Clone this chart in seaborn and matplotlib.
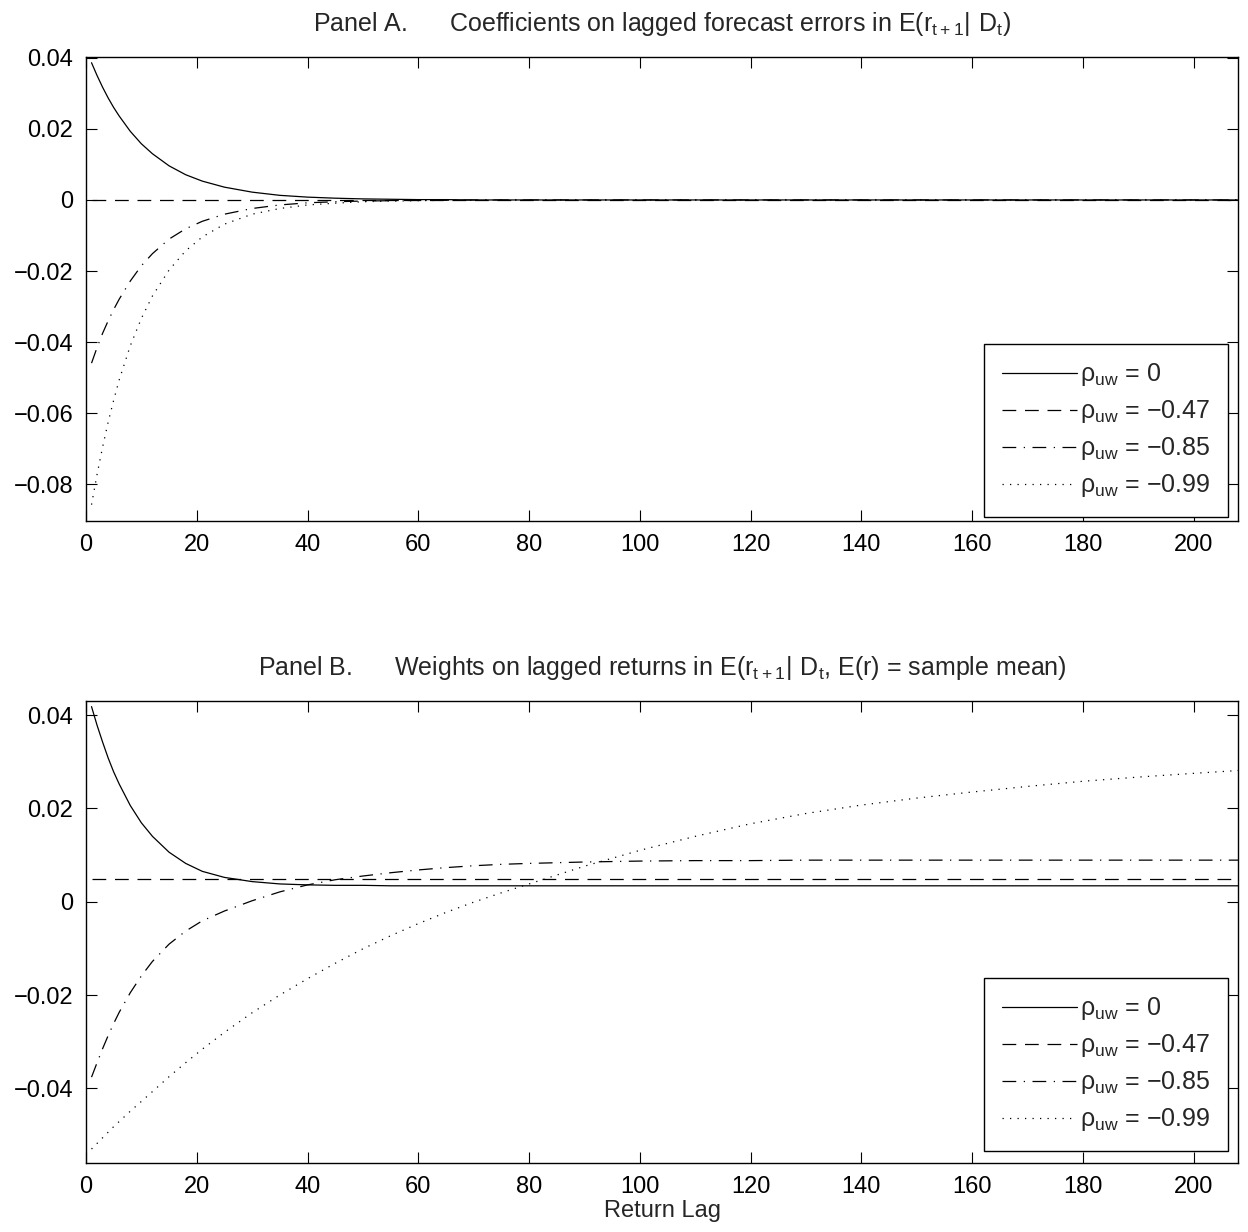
import matplotlib
matplotlib.use('Agg')
import matplotlib.pyplot as plt
import pandas as pd
import seaborn as sns

lags = [1, 2, 3, 4, 5, 6, 8, 10, 12, 15, 18, 21, 25, 30, 35, 40, 45, 50, 55, 60,
        65, 70, 75, 80, 90, 100, 110, 120, 130, 140, 150, 160, 170, 180, 190, 200, 208]

# Panel A: coefficients on lagged forecast errors
solid_a = [0.0386, 0.0350, 0.0317, 0.0287, 0.0260, 0.0236, 0.0193, 0.0158, 0.0130, 0.0096,
           0.0071, 0.0053, 0.0036, 0.0022, 0.0013, 0.0008, 0.0005, 0.0003, 0.0002, 0.0001,
           0.0001, 0, 0, 0, 0, 0, 0, 0, 0, 0, 0, 0, 0, 0, 0, 0, 0]
dashed_a = [0] * len(lags)
dashdot_a = [-0.0459, -0.0415, -0.0375, -0.0340, -0.0308, -0.0279, -0.0228, -0.0185, -0.0151, -0.0110,
             -0.0081, -0.0060, -0.0040, -0.0024, -0.0014, -0.0008, -0.0005, -0.0003, -0.0002, -0.0001,
             -0.0001, 0, 0, 0, 0, 0, 0, 0, 0, 0, 0, 0, 0, 0, 0, 0, 0]
dotted_a = [-0.0857, -0.0772, -0.0695, -0.0625, -0.0563, -0.0506, -0.0410, -0.0333, -0.0270, -0.0197,
            -0.0143, -0.0104, -0.0068, -0.0040, -0.0024, -0.0014, -0.0009, -0.0005, -0.0003, -0.0002,
            -0.0001, -0.0001, 0, 0, 0, 0, 0, 0, 0, 0, 0, 0, 0, 0, 0, 0, 0]

# Panel B: weights on lagged returns
solid_b = [0.0418, 0.0378, 0.0342, 0.0308, 0.0278, 0.0252, 0.0206, 0.0169, 0.0140, 0.0106,
           0.0082, 0.0065, 0.0052, 0.0043, 0.0038, 0.0036, 0.0035, 0.0035, 0.0034, 0.0034,
           0.0034, 0.0034, 0.0034, 0.0034, 0.0034, 0.0034, 0.0034, 0.0034, 0.0034, 0.0034,
           0.0034, 0.0034, 0.0034, 0.0034, 0.0034, 0.0034, 0.0034]
dashed_b = [0.0048] * len(lags)
dashdot_b = [-0.0376, -0.0345, -0.0315, -0.0287, -0.0261, -0.0237, -0.0195, -0.0159, -0.0128, -0.0091,
             -0.0063, -0.0041, -0.0020, 0.0002, 0.0021, 0.0036, 0.0047, 0.0055, 0.0062, 0.0068,
             0.0073, 0.0077, 0.0080, 0.0082, 0.0085, 0.0087, 0.0088, 0.0088, 0.0089, 0.0089,
             0.0089, 0.0089, 0.0089, 0.0089, 0.0089, 0.0089, 0.0089]
dotted_b = [-0.0530, -0.0518, -0.0506, -0.0494, -0.0482, -0.0471, -0.0449, -0.0428, -0.0407, -0.0375,
            -0.0345, -0.0316, -0.0280, -0.0238, -0.0200, -0.0165, -0.0132, -0.0101, -0.0073, -0.0047,
            -0.0023, -0.0001, 0.0019, 0.0038, 0.0076, 0.0110, 0.0140, 0.0167, 0.0189, 0.0207,
            0.0222, 0.0235, 0.0247, 0.0258, 0.0267, 0.0275, 0.0281]

legend_labels = ['$ρ_{uw}$ = 0', '$ρ_{uw}$ = \u22120.47', '$ρ_{uw}$ = \u22120.85', '$ρ_{uw}$ = \u22120.99']
xticks = [0, 20, 40, 60, 80, 100, 120, 140, 160, 180, 200]
yticks_a = [-0.08, -0.06, -0.04, -0.02, 0, 0.02, 0.04]
ytick_labels_a = ['\u22120.08', '\u22120.06', '\u22120.04', '\u22120.02', '0', '0.02', '0.04']
yticks_b = [-0.04, -0.02, 0, 0.02, 0.04]
ytick_labels_b = ['\u22120.04', '\u22120.02', '0', '0.02', '0.04']

title_a = 'Panel A.      Coefficients on lagged forecast errors in $E(r_{t+1}|\\ D_t)$'
title_b = 'Panel B.      Weights on lagged returns in $E(r_{t+1}|\\ D_t$, E(r) = sample mean)'

sns.set_style('ticks')
plt.rcParams['font.family'] = ['Liberation Sans', 'DejaVu Sans']
plt.rcParams['mathtext.default'] = 'regular'
plt.rcParams['axes.linewidth'] = 1.0
plt.rcParams['axes.edgecolor'] = 'black'

styles = ['-', (0, (11, 7)), (0, (11, 6, 1, 6)), (0, (1, 5))]


def draw_panel(ax, series, ylim, yticks, yticklabels, title, legend_y):
    for vals, ls, lab in zip(series, styles, legend_labels):
        sns.lineplot(x=lags, y=vals, ax=ax, color='black', linestyle=ls, linewidth=0.9, label=lab)
    ax.set_xlim(0, 208)
    ax.set_ylim(*ylim)
    ax.set_xticks(xticks)
    ax.set_yticks(yticks)
    ax.set_yticklabels(yticklabels)
    ax.tick_params(direction='in', length=8, width=0.8, top=True, right=True,
                   labelsize=17, pad=9, colors='black')
    ax.set_title(title, fontsize=18, pad=19)
    ax.legend(loc='lower right', bbox_to_anchor=(0.9913, legend_y), borderaxespad=0,
              fontsize=18, handlelength=3.0, handletextpad=0.15, labelspacing=0.4,
              borderpad=0.7, frameon=True, fancybox=False, edgecolor='black', framealpha=1)
    ax.get_legend().get_frame().set_linewidth(1.0)


fig = plt.figure(figsize=(12.48, 12.32), dpi=100)
ax_a = fig.add_axes([0.0689, 0.5771, 0.9231, 0.3766])
ax_b = fig.add_axes([0.0689, 0.0560, 0.9231, 0.3750])

draw_panel(ax_a, [solid_a, dashed_a, dashdot_a, dotted_a], (-0.0903, 0.0402),
           yticks_a, ytick_labels_a, title_a, 0.009)
draw_panel(ax_b, [solid_b, dashed_b, dashdot_b, dotted_b], (-0.056, 0.043),
           yticks_b, ytick_labels_b, title_b, 0.026)
ax_b.set_xlabel('Return Lag', fontsize=17, labelpad=2)

fig.savefig('out.png', dpi=100)
